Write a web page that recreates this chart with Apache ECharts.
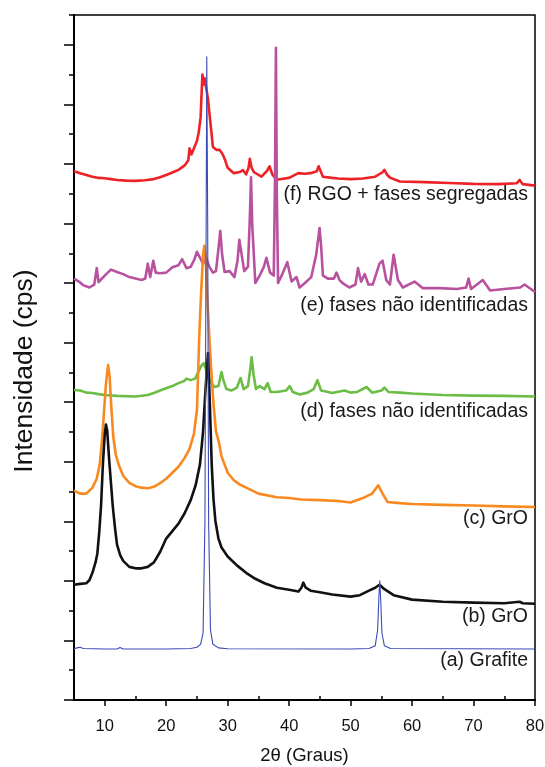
<!DOCTYPE html>
<html>
<head>
<meta charset="utf-8">
<script src="https://cdn.jsdelivr.net/npm/echarts@6/dist/echarts.min.js"></script>
<style>
  html, body { margin: 0; padding: 0; background: #fff; }
  #chart { width: 545px; height: 767px; }
</style>
</head>
<body>
<div id="chart"></div>
<script>
// curvas de DRX, [2theta, intensidade com deslocamento]
var grafite = [[5,1.72],[5.5,1.75],[6,1.77],[6.5,1.73],[10,1.71],[12,1.71],[12.5,1.76],[13,1.71],[20,1.71],[24,1.73],[25,1.77],[25.6,1.87],[26,2.25],[26.3,6],[26.5,16],[26.6,21.6],[26.75,16],[26.9,6],[27.2,2.35],[27.6,1.87],[28.5,1.75],[30,1.72],[50,1.71],[53,1.73],[54,1.82],[54.4,2.35],[54.6,3.45],[54.75,4.0],[54.9,3.35],[55.1,2.25],[55.5,1.82],[56.5,1.73],[80,1.71]];
var gro_b = [[5,3.87],[6,3.9],[7,3.92],[7.5,4.02],[8,4.27],[8.5,4.62],[8.8,4.92],[9.1,5.62],[9.4,6.52],[9.7,7.92],[10,8.92],[10.2,9.25],[10.4,9.05],[10.7,8.12],[11,7.32],[11.3,6.52],[11.7,5.72],[12,5.22],[12.5,4.87],[13,4.67],[14,4.47],[15,4.42],[16,4.42],[17,4.47],[18,4.62],[19,4.97],[20,5.42],[21,5.67],[22,5.92],[23,6.27],[24,6.72],[24.8,7.22],[25.5,7.92],[26,9.02],[26.4,10.45],[26.8,11.65],[27.1,9.95],[27.4,7.92],[27.7,6.72],[28,6.02],[28.5,5.42],[29,5.12],[30,4.82],[31.5,4.52],[33,4.27],[34.5,4.07],[36,3.92],[38,3.77],[40,3.7],[41.5,3.64],[42,3.77],[42.3,3.94],[42.7,3.77],[43.5,3.67],[45,3.62],[47,3.54],[50,3.47],[51.5,3.52],[53,3.67],[54,3.77],[54.7,3.87],[55.5,3.72],[57,3.52],[60,3.37],[65,3.3],[70,3.27],[75,3.25],[77.5,3.3],[78,3.25],[80,3.23]];
var gro_c = [[5,7.03],[6,6.93],[7,6.93],[8,7.13],[8.7,7.43],[9.2,7.93],[9.6,8.83],[9.9,9.73],[10.2,10.63],[10.55,11.25],[10.8,10.85],[11.1,9.73],[11.4,8.83],[11.8,8.23],[12.3,7.88],[13,7.53],[14,7.29],[15,7.18],[16,7.13],[17,7.11],[18,7.16],[19,7.28],[20,7.43],[21,7.63],[22,7.83],[23,8.13],[23.8,8.43],[24.5,8.93],[25,9.73],[25.4,12.35],[25.7,13.75],[26,14.95],[26.2,15.25],[26.4,14.95],[26.7,13.45],[27,12.25],[27.3,11.15],[27.7,9.93],[28.1,9.03],[28.6,8.63],[29,8.18],[30,7.63],[31,7.38],[32,7.23],[33.5,7.08],[35,6.93],[38,6.81],[40,6.78],[42,6.73],[45,6.71],[48,6.68],[50,6.63],[52,6.78],[53.5,6.93],[54.5,7.21],[55.2,6.93],[56,6.65],[58,6.61],[60,6.58],[65,6.55],[70,6.53],[75,6.5],[80,6.48]];
var fases_d = [[5,10.41],[6,10.39],[7,10.32],[8,10.31],[9,10.27],[10,10.24],[12,10.21],[15,10.19],[17,10.24],[18,10.31],[19,10.39],[20,10.47],[21,10.54],[22,10.64],[23,10.72],[23.3,10.79],[24,10.74],[24.7,10.79],[25.3,11.04],[25.7,11.22],[26.1,11.31],[26.5,11.09],[27,10.76],[27.8,10.51],[28.5,10.54],[28.8,10.84],[29,11.01],[29.3,10.74],[29.8,10.44],[30.6,10.39],[31.5,10.49],[32.1,10.81],[32.6,10.44],[33.3,10.54],[33.7,11.14],[33.9,11.51],[34.2,10.94],[34.6,10.44],[35.2,10.54],[36,10.44],[36.5,10.64],[37,10.34],[38,10.34],[39.5,10.39],[40.1,10.54],[40.6,10.34],[41.7,10.26],[43,10.32],[44,10.44],[44.6,10.74],[45.2,10.39],[46,10.36],[47,10.31],[49,10.39],[50,10.32],[51,10.34],[52.6,10.51],[53.5,10.32],[55,10.39],[55.5,10.49],[56.2,10.34],[58,10.32],[60,10.29],[65,10.24],[70,10.22],[75,10.21],[80,10.19]];
var fases_e = [[5,14.15],[5.8,14.05],[6.5,13.93],[7.5,13.85],[8.3,13.95],[8.7,14.5],[9,14.03],[10,14.25],[11,14.45],[12,14.37],[13,14.3],[14,14.2],[15,14.15],[16,14.1],[16.6,14.15],[17,14.65],[17.4,14.2],[17.9,14.75],[18.3,14.35],[19,14.33],[20,14.35],[21,14.53],[22,14.6],[22.6,14.8],[23.3,14.5],[24,14.55],[24.6,14.8],[25,15.05],[25.5,14.85],[26,14.65],[26.5,14.85],[27,14.55],[27.6,14.35],[28.1,14.4],[28.5,15.15],[28.8,15.75],[29.1,14.95],[29.5,14.37],[30.3,14.4],[31.1,14.2],[31.6,14.75],[31.9,15.45],[32.2,15.05],[32.7,14.4],[33.3,14.55],[33.6,16.15],[33.8,17.55],[34.0,15.95],[34.5,14.0],[35.2,14.25],[35.9,14.55],[36.3,14.85],[36.9,14.35],[37.5,14.25],[37.7,17.45],[37.85,21.9],[38.0,16.95],[38.2,14.0],[39,14.35],[39.7,14.7],[40.4,14.05],[41.2,14.2],[41.7,13.85],[42.3,13.95],[43.6,14.2],[44.4,14.95],[44.95,15.85],[45.2,15.25],[45.5,14.25],[46.3,14.15],[47.3,14.15],[47.7,14.35],[48.2,14.1],[48.7,14.0],[49.8,13.85],[50.8,13.95],[51.2,14.5],[51.7,14.05],[52.3,14.3],[52.9,13.95],[53.6,13.95],[54.7,14.65],[55.2,14.75],[55.8,14.1],[56.4,13.95],[57,14.95],[57.7,14.1],[58.5,13.85],[60.4,14.05],[61.7,13.83],[64.5,13.83],[67.3,13.8],[68.8,13.85],[69.2,14.15],[69.6,13.8],[71.5,14.1],[72.7,13.75],[75,13.8],[77.6,13.85],[78.3,13.95],[80,13.7]];
var rgo_f = [[5,17.75],[6,17.69],[7,17.63],[8,17.57],[9,17.53],[10,17.52],[11,17.49],[12,17.46],[13.5,17.44],[15,17.43],[16.5,17.45],[18,17.49],[19,17.55],[20,17.63],[21,17.71],[22,17.8],[23,17.95],[23.6,18.12],[23.8,18.52],[24.1,18.32],[24.6,18.57],[25,18.77],[25.3,19.07],[25.6,19.57],[25.8,20.57],[25.9,21.0],[26.1,20.67],[26.3,20.87],[26.5,20.57],[26.8,20.17],[27,19.77],[27.3,19.17],[27.6,18.57],[28.2,18.47],[28.7,18.47],[29.2,18.32],[29.6,18.12],[30,17.87],[31,17.69],[32,17.73],[32.5,17.79],[33,17.65],[33.4,17.87],[33.6,18.17],[33.9,17.87],[34.3,17.72],[35.5,17.57],[36.4,17.77],[36.8,17.92],[37.3,17.63],[38,17.47],[39,17.5],[40,17.53],[41.5,17.69],[42.5,17.67],[43.5,17.69],[44.5,17.75],[44.8,17.92],[45.5,17.57],[47,17.53],[48,17.51],[50,17.49],[52,17.51],[54,17.57],[55.2,17.72],[55.5,17.8],[56,17.62],[56.5,17.53],[58,17.41],[62,17.39],[66,17.36],[70,17.33],[74,17.32],[77,17.35],[77.5,17.46],[78,17.32],[80,17.27]];

var xMajor = [10, 20, 30, 40, 50, 60, 70, 80];
var xMinor = [5, 15, 25, 35, 45, 55, 65, 75];
var yMajor = [0, 2, 4, 6, 8, 10, 12, 14, 16, 18, 20, 22];
var yMinor = [1, 3, 5, 7, 9, 11, 13, 15, 17, 19, 21, 23];

var rotulos = ['(f) RGO + fases segregadas', '(e) fases não identificadas', '(d) fases não identificadas', '(c) GrO', '(b) GrO', '(a) Grafite'];
var rotuloY = [196, 307, 413, 520, 618, 662];

var chart = echarts.init(document.getElementById('chart'));

function linha(dados, cor, w) {
  return {
    type: 'line', data: dados, showSymbol: false, symbol: 'none', animation: false,
    lineStyle: { color: cor, width: w, join: 'round' }, xAxisIndex: 0, yAxisIndex: 0
  };
}

var eixoX = {
  type: 'value', min: 5, max: 80, interval: 5,
  axisLine: { lineStyle: { color: '#000', width: 2 } },
  splitLine: { show: false }
};
var eixoY = {
  type: 'value', min: 0, max: 23, interval: 1, position: 'left',
  axisLine: { lineStyle: { color: '#000', width: 2 } },
  splitLine: { show: false }, axisLabel: { show: false }
};

chart.setOption({
  backgroundColor: '#fff',
  grid: {
    left: 74, right: 10, top: 15, bottom: 67, outerBoundsMode: 'none',
    show: true, borderColor: '#000', borderWidth: 1.5
  },
  xAxis: [
    Object.assign({}, eixoX, {
      axisTick: { customValues: xMajor, length: 6, lineStyle: { color: '#000', width: 1.5 } },
      axisLabel: { customValues: xMajor, fontSize: 16.5, color: '#111', fontFamily: 'Liberation Sans', margin: 18 },
      name: '2θ (Graus)', nameLocation: 'middle', nameGap: 46,
      nameTextStyle: { fontSize: 18.5, color: '#111', fontFamily: 'Liberation Sans' }
    }),
    Object.assign({}, eixoX, {
      axisTick: { customValues: xMinor, length: 4, lineStyle: { color: '#000', width: 1.5 } },
      axisLabel: { show: false }
    })
  ],
  yAxis: [
    Object.assign({}, eixoY, {
      axisTick: { customValues: yMajor, length: 10, lineStyle: { color: '#000', width: 1.5 } }
    }),
    Object.assign({}, eixoY, {
      axisTick: { customValues: yMinor, length: 5, lineStyle: { color: '#000', width: 1.5 } }
    })
  ],
  series: [
    linha(rgo_f, '#ec2227', 2.6),
    linha(fases_e, '#b8519e', 2.6),
    linha(fases_d, '#6cbd45', 2.6),
    linha(gro_c, '#f7891f', 2.6),
    linha(gro_b, '#111111', 2.6),
    linha(grafite, '#3b4bb5', 1.1)
  ],
  graphic: [{
    type: 'text', x: 25, y: 371, rotation: Math.PI / 2,
    style: { text: 'Intensidade (cps)', fontSize: 26.5, fill: '#111', fontFamily: 'Liberation Sans', align: 'center', verticalAlign: 'middle' }
  }].concat(rotulos.map(function (t, i) {
    return {
      type: 'text', right: 17, top: rotuloY[i] - 11,
      style: { text: t, fontSize: 19.5, fill: '#1a1a1a', fontFamily: 'Liberation Sans' }
    };
  }))
});
</script>
</body>
</html>
